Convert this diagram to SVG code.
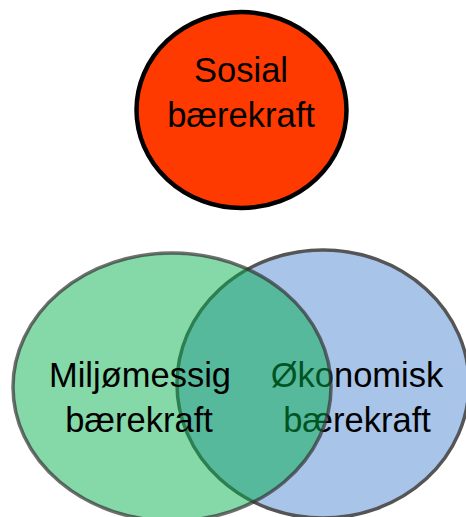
<svg xmlns="http://www.w3.org/2000/svg" width="466" height="517" viewBox="0 0 466 517">
<style>
text{font-family:"Liberation Sans","Open Sans",sans-serif;font-size:34.5px;fill:#000;text-anchor:middle}
</style>
<rect width="466" height="517" fill="#fff"/>
<g id="sosial">
<ellipse cx="241.5" cy="110" rx="105" ry="98" fill="#ff3a00" stroke="#000" stroke-width="4.5"/>
<text x="241" y="82">Sosial</text>
<text x="241" y="127">bærekraft</text>
</g>
<g id="okonomisk">
<ellipse cx="323" cy="384" rx="146" ry="134" fill="#a8c4e8" stroke="#555" stroke-width="3.5"/>
<text x="357" y="387">Økonomisk</text>
<text x="357" y="432">bærekraft</text>
</g>
<g id="miljo">
<ellipse cx="172" cy="387" rx="159" ry="134" fill="#00ae4a" fill-opacity="0.48" stroke="#333" stroke-opacity="0.7" stroke-width="3.5"/>
<text x="140" y="387">Miljømessig</text>
<text x="139" y="432">bærekraft</text>
</g>
<g id="connectors"/>
</svg>
